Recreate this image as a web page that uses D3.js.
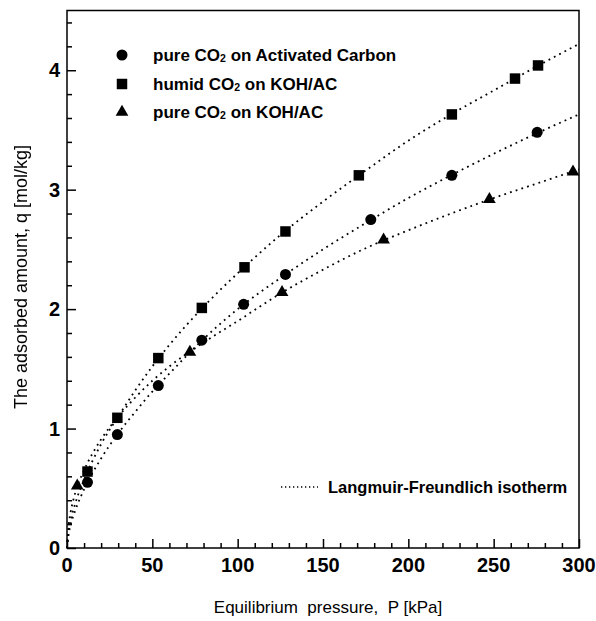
<!DOCTYPE html>
<html>
<head>
<meta charset="utf-8">
<script src="https://cdn.jsdelivr.net/npm/d3@7"></script>
<style>
  body { margin: 0; background: #fff; }
  svg { display: block; }
  text { font-family: "Liberation Sans", Arial, Helvetica, sans-serif; fill: #000; }
</style>
</head>
<body>
<svg id="chart" width="596" height="621"></svg>
<script>
// Axis ticks
const pressureTicks = [0, 50, 100, 150, 200, 250, 300];
const pressureMinor = [10, 20, 30, 40, 60, 70, 80, 90, 110, 120, 130, 140, 160, 170, 180, 190, 210, 220, 230, 240, 260, 270, 280, 290];
const amountTicks = [0, 1, 2, 3, 4];
const amountMinor = [0.2, 0.4, 0.6, 0.8, 1.2, 1.4, 1.6, 1.8, 2.2, 2.4, 2.6, 2.8, 3.2, 3.4, 3.6, 3.8, 4.2, 4.4];

// Measured isotherm points (P in kPa, q in mol/kg)
const acP    = [12, 29.5, 53.5, 79, 103.5, 128, 178, 225.5, 275.5];
const acQ    = [0.55, 0.95, 1.36, 1.74, 2.04, 2.29, 2.75, 3.12, 3.48];
const humidP = [12, 29.5, 53.5, 79, 104, 128, 171, 225.5, 262.5, 276];
const humidQ = [0.64, 1.09, 1.59, 2.01, 2.35, 2.65, 3.12, 3.63, 3.93, 4.04];
const kohP   = [6, 72, 126, 185.5, 247.5, 296.5];
const kohQ   = [0.52, 1.64, 2.14, 2.58, 2.92, 3.15];

// Langmuir-Freundlich fitted curves
const fitP     = [0, 1, 2, 5, 10, 20, 30, 40, 50, 60, 80, 100, 125, 150, 175, 200, 225, 250, 275, 300];
const acFit    = [0, 0.12, 0.185, 0.32, 0.49, 0.75, 0.96, 1.14, 1.31, 1.46, 1.75, 2.00, 2.26, 2.50, 2.72, 2.93, 3.12, 3.30, 3.47, 3.63];
const humidFit = [0, 0.144, 0.22, 0.38, 0.57, 0.87, 1.10, 1.32, 1.52, 1.70, 2.02, 2.30, 2.62, 2.90, 3.16, 3.41, 3.63, 3.83, 4.03, 4.22];
const kohFit   = [0, 0.2, 0.29, 0.47, 0.65, 0.91, 1.10, 1.26, 1.40, 1.52, 1.72, 1.90, 2.13, 2.33, 2.51, 2.66, 2.80, 2.93, 3.05, 3.17];

const legendLabels = [
  ["pure CO", "2", " on Activated Carbon"],
  ["humid CO", "2", " on KOH/AC"],
  ["pure CO", "2", " on KOH/AC"]
];
const fitLabel = "Langmuir-Freundlich isotherm";
const xTitle = "Equilibrium  pressure,  P [kPa]";
const yTitle = "The adsorbed amount, q [mol/kg]";

const svg = d3.select("#chart");
const plotLeft = 67, plotRight = 579, plotTop = 10.5, plotBottom = 548;

// Greyscale filter keeps the rotated title free of colour fringes
svg.append("defs").append("filter").attr("id", "mono")
  .append("feColorMatrix").attr("type", "saturate").attr("values", 0);

const x = d3.scaleLinear().domain([0, 300]).range([plotLeft, plotRight]);
const y = d3.scaleLinear().domain([0, 4.5]).range([plotBottom, plotTop]);

const dotted = { width: 1.8, dash: "1.8,4.2" };

// Fitted curves (dotted)
const line = d3.line().x(d => x(d[0])).y(d => y(d[1])).curve(d3.curveMonotoneX);
[acFit, humidFit, kohFit].forEach(fit => {
  svg.append("path")
    .datum(fitP.map((p, i) => [p, fit[i]]))
    .attr("d", line)
    .attr("fill", "none")
    .attr("stroke", "#000")
    .attr("stroke-width", dotted.width)
    .attr("stroke-dasharray", dotted.dash);
});

// Frame
svg.append("rect")
  .attr("x", plotLeft).attr("y", plotTop)
  .attr("width", plotRight - plotLeft).attr("height", plotBottom - plotTop)
  .attr("fill", "none").attr("stroke", "#000").attr("stroke-width", 1.5);

// X axis: ticks point inward
const xAxis = svg.append("g").attr("transform", `translate(0,${plotBottom})`);
xAxis.call(d3.axisTop(x).tickValues(pressureTicks).tickSize(9).tickFormat(""));
xAxis.append("g").call(d3.axisTop(x).tickValues(pressureMinor).tickSize(5).tickFormat(""));
xAxis.selectAll(".domain").remove();
xAxis.selectAll("line").attr("stroke-width", 1.5);
svg.append("g").selectAll("text").data(pressureTicks).join("text")
  .attr("x", d => x(d)).attr("y", 572)
  .attr("text-anchor", "middle")
  .attr("font-size", 20).attr("font-weight", "bold")
  .text(d => d);

// Y axis: ticks point inward
const yAxis = svg.append("g").attr("transform", `translate(${plotLeft},0)`);
yAxis.call(d3.axisRight(y).tickValues(amountTicks).tickSize(9).tickFormat(""));
yAxis.append("g").call(d3.axisRight(y).tickValues(amountMinor).tickSize(5).tickFormat(""));
yAxis.selectAll(".domain").remove();
yAxis.selectAll("line").attr("stroke-width", 1.5);
svg.append("g").selectAll("text").data(amountTicks).join("text")
  .attr("x", 60).attr("y", d => y(d) + 7)
  .attr("text-anchor", "end")
  .attr("font-size", 20).attr("font-weight", "bold")
  .text(d => d);

// Axis titles
svg.append("text")
  .attr("x", 328).attr("y", 613)
  .attr("text-anchor", "middle")
  .attr("font-size", 17)
  .style("white-space", "pre")
  .text(xTitle);
svg.append("g").attr("filter", "url(#mono)")
  .append("text")
  .attr("transform", "translate(27,277) rotate(-90)")
  .attr("text-anchor", "middle")
  .attr("font-size", 18)
  .text(yTitle);

// Markers
const symbols = [
  d3.symbol().type(d3.symbolCircle).size(95),
  d3.symbol().type(d3.symbolSquare).size(110),
  d3.symbol().type(d3.symbolTriangle).size(70)
];
const series = [[acP, acQ], [humidP, humidQ], [kohP, kohQ]];
series.forEach(([ps, qs], k) => {
  svg.append("g").selectAll("path").data(ps.map((p, i) => [p, qs[i]])).join("path")
    .attr("transform", d => `translate(${x(d[0])},${y(d[1])})`)
    .attr("d", symbols[k])
    .attr("fill", "#000");
});

// Legend for markers
const legendY = [55, 84, 112];
legendLabels.forEach((parts, k) => {
  svg.append("path")
    .attr("transform", `translate(122,${legendY[k]})`)
    .attr("d", symbols[k])
    .attr("fill", "#000");
  const t = svg.append("text")
    .attr("x", 153).attr("y", legendY[k] + 6)
    .attr("font-size", 17).attr("font-weight", "bold");
  t.append("tspan").text(parts[0]);
  t.append("tspan").attr("font-size", 10.5).attr("dy", 1).text(parts[1]);
  t.append("tspan").attr("dy", -1).text(parts[2]);
});

// Legend for fitted curve
svg.append("line")
  .attr("x1", 281).attr("x2", 318).attr("y1", 487).attr("y2", 487)
  .attr("stroke", "#000").attr("stroke-width", 1.3).attr("stroke-dasharray", "1.3,2.7");
svg.append("text")
  .attr("x", 328).attr("y", 493)
  .attr("font-size", 16.5).attr("font-weight", "bold")
  .text(fitLabel);
</script>
</body>
</html>
